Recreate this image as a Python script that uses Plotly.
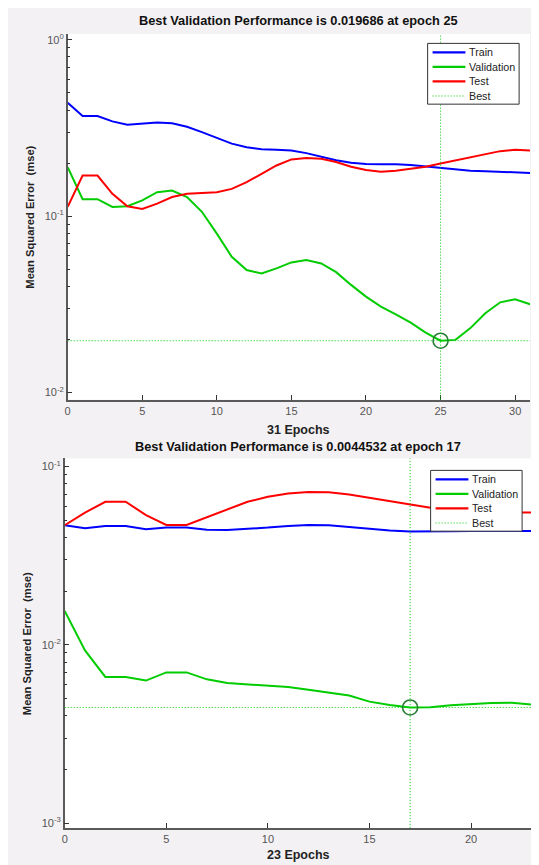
import plotly.graph_objects as go

# The page body keeps an 8px white margin, so the figure is 8px smaller and
# every reference pixel position is shifted by OFF.
W, H = 531, 857
OFF = 8

# ---------------- data ----------------
epochs_a = list(range(32))
train_a = [0.44, 0.37, 0.37, 0.345, 0.33, 0.335, 0.34, 0.337, 0.322, 0.30, 0.278, 0.258,
           0.246, 0.240, 0.238, 0.236, 0.228, 0.218, 0.208, 0.201, 0.198, 0.197, 0.197,
           0.195, 0.191, 0.187, 0.183, 0.181, 0.180, 0.179, 0.178, 0.176]
validation_a = [0.190, 0.125, 0.125, 0.113, 0.114, 0.123, 0.137, 0.140, 0.1285, 0.106, 0.0797,
                0.0589, 0.0495, 0.0474, 0.0506, 0.0547, 0.0564, 0.054, 0.0482, 0.0408, 0.035,
                0.0307, 0.0278, 0.0249, 0.0219, 0.019686, 0.0199, 0.0232, 0.0282, 0.0325,
                0.0338, 0.0317]
test_a = [0.113, 0.170, 0.170, 0.134, 0.114, 0.110, 0.118, 0.1285, 0.134, 0.135, 0.137, 0.143,
          0.156, 0.174, 0.194, 0.210, 0.214, 0.212, 0.203, 0.191, 0.183, 0.179, 0.181, 0.186,
          0.191, 0.199, 0.207, 0.216, 0.226, 0.234, 0.238, 0.236]
best_epoch_a = 25
best_value_a = 0.019686
n_epochs_a = 31

epochs_b = list(range(24))
train_b = [0.0468, 0.0451, 0.0464, 0.0464, 0.0445, 0.0454, 0.0454, 0.0441, 0.0440, 0.0445,
           0.0454, 0.0464, 0.0470, 0.0468, 0.0458, 0.0449, 0.0437, 0.0432, 0.0431, 0.0433,
           0.0434, 0.0435, 0.0435, 0.0435]
validation_b = [0.0155, 0.0093, 0.0066, 0.0066, 0.0063, 0.0070, 0.0070, 0.0064, 0.0061, 0.0060,
                0.0059, 0.0058, 0.0056, 0.0054, 0.0052, 0.0048, 0.0046, 0.0044532, 0.00447,
                0.00458, 0.00466, 0.00472, 0.00473, 0.00462]
test_b = [0.0468, 0.0551, 0.0634, 0.0634, 0.0534, 0.0470, 0.0470, 0.0521, 0.0574, 0.0634,
          0.0676, 0.0705, 0.0720, 0.0717, 0.0697, 0.0667, 0.0639, 0.0613, 0.0587, 0.0570,
          0.0560, 0.0555, 0.0552, 0.0551]
best_epoch_b = 17
best_value_b = 0.0044532
n_epochs_b = 23

series_names = ["Train", "Validation", "Test", "Best"]
x_ticks_a = [0, 5, 10, 15, 20, 25, 30]
x_ticks_b = [0, 5, 10, 15, 20]
y_exp_a = [-2, -1, 0]
y_exp_b = [-3, -2, -1]
title_a = "Best Validation Performance is 0.019686 at epoch 25"
title_b = "Best Validation Performance is 0.0044532 at epoch 17"
xlabel_a = "31 Epochs"
xlabel_b = "23 Epochs"
ylabel = "Mean Squared Error  (mse)"

# ---------------- style ----------------
BLUE, GREEN, RED, DKGREEN = "#0000ff", "#00cc00", "#ff0000", "#2a7d36"
FONT = "Liberation Sans, Arial, Helvetica, sans-serif"
AXCOL = "#5a5a5a"
PANEL = "#f4f1f4"
DOT = "1px,2px"


def px(x):
    return (x - OFF) / W


def py(y):
    return 1 - (y - OFF) / H


def minor_vals(lo, hi):
    return [m * 10.0 ** e for e in range(lo, hi) for m in range(2, 10)]


fig = go.Figure()
shapes = []
ann = []


def add_panel(xa, ya, ep, tr, va, te, best_ep, best_v):
    for vals, name, col in ((tr, series_names[0], BLUE), (va, series_names[1], GREEN),
                            (te, series_names[2], RED)):
        fig.add_trace(go.Scatter(x=ep, y=vals, name=name, mode="lines", showlegend=False,
                                 line=dict(color=col, width=2), xaxis=xa, yaxis=ya))
    fig.add_trace(go.Scatter(x=[best_ep], y=[best_v], mode="markers", showlegend=False,
                             marker=dict(symbol="circle-open", size=15,
                                         line=dict(color=DKGREEN, width=1.6), color=DKGREEN),
                             xaxis=xa, yaxis=ya))
    shapes.append(dict(type="line", xref=xa, yref=ya + " domain", x0=best_ep, x1=best_ep,
                       y0=0, y1=1, line=dict(color=GREEN, width=1, dash=DOT), layer="above"))
    shapes.append(dict(type="line", xref=xa + " domain", yref=ya, x0=0, x1=1,
                       y0=best_v, y1=best_v, line=dict(color=GREEN, width=1, dash=DOT),
                       layer="above"))


def add_legend(left, top):
    # legend box in reference pixels
    w, h = 92, 61
    shapes.append(dict(type="rect", xref="paper", yref="paper", x0=px(left), x1=px(left + w),
                       y0=py(top + h), y1=py(top), fillcolor="white",
                       line=dict(color="#333333", width=1), layer="above"))
    cols = [BLUE, GREEN, RED, GREEN]
    for i, name in enumerate(series_names):
        yy = top + 9 + i * 14.6
        dash = DOT if name == "Best" else "solid"
        wid = 1 if name == "Best" else 2.2
        shapes.append(dict(type="line", xref="paper", yref="paper", x0=px(left + 5),
                           x1=px(left + 38), y0=py(yy), y1=py(yy),
                           line=dict(color=cols[i], width=wid, dash=dash), layer="above"))
        ann.append(dict(text=name, x=px(left + 40), y=py(yy), xanchor="left", yanchor="middle",
                        font=dict(size=10.7, color="#222222")))


add_panel("x", "y", epochs_a, train_a, validation_a, test_a, best_epoch_a, best_value_a)
add_panel("x2", "y2", epochs_b, train_b, validation_b, test_b, best_epoch_b, best_value_b)
add_legend(427, 41.5)
add_legend(430, 470)

axis_common = dict(showline=True, linecolor=AXCOL, linewidth=1.5, ticks="inside", ticklen=5,
                   tickcolor="#333333", tickwidth=1, showgrid=False, zeroline=False,
                   tickfont=dict(family=FONT, size=11, color="#555555"), mirror=False)


def exp_text(e):
    return "10<sup>%d</sup>" % e


fig.update_layout(
    width=W, height=H, margin=dict(l=0, r=0, t=0, b=0),
    paper_bgcolor=PANEL, plot_bgcolor="white",
    font=dict(family=FONT),
    showlegend=False,
    xaxis=dict(domain=[px(65), px(530)], range=[0, n_epochs_a], anchor="y",
               tickvals=x_ticks_a, **axis_common),
    yaxis=dict(domain=[py(399), py(32)], type="log", range=[-2.04, 0.034], anchor="x",
               tickvals=[10.0 ** e for e in y_exp_a], ticktext=[exp_text(e) for e in y_exp_a],
               minor=dict(tickvals=minor_vals(-2, 0), ticks="inside", ticklen=3,
                          tickcolor="#333333"),
               **axis_common),
    xaxis2=dict(domain=[px(62), px(532)], range=[0, n_epochs_b], anchor="y2",
                tickvals=x_ticks_b, **axis_common),
    yaxis2=dict(domain=[py(829), py(458)], type="log", range=[-3.028, -0.955], anchor="x2",
                tickvals=[10.0 ** e for e in y_exp_b], ticktext=[exp_text(e) for e in y_exp_b],
                minor=dict(tickvals=minor_vals(-3, -1), ticks="inside", ticklen=3,
                           tickcolor="#333333"),
                **axis_common),
)

ann.append(dict(text="<b>%s</b>" % title_a, x=px(297.5), y=py(19), font=dict(size=12.8, color="#111")))
ann.append(dict(text="<b>%s</b>" % title_b, x=px(297), y=py(446), font=dict(size=12.8, color="#111")))
ann.append(dict(text="<b>%s</b>" % xlabel_a, x=px(297.5), y=py(429), font=dict(size=12.5, color="#222")))
ann.append(dict(text="<b>%s</b>" % xlabel_b, x=px(297), y=py(856), font=dict(size=12.5, color="#222")))
ann.append(dict(text="<b>%s</b>" % ylabel, x=px(27), y=py(215.5), textangle=-90,
                font=dict(size=11.2, color="#222")))
ann.append(dict(text="<b>%s</b>" % ylabel, x=px(24), y=py(643.5), textangle=-90,
                font=dict(size=11.2, color="#222")))
for a in ann:
    a.update(xref="paper", yref="paper", showarrow=False)
    a.setdefault("xanchor", "center")
    a.setdefault("yanchor", "middle")
    a["font"]["family"] = FONT

fig.update_layout(annotations=ann, shapes=shapes)

fig.write_html("out.html")
